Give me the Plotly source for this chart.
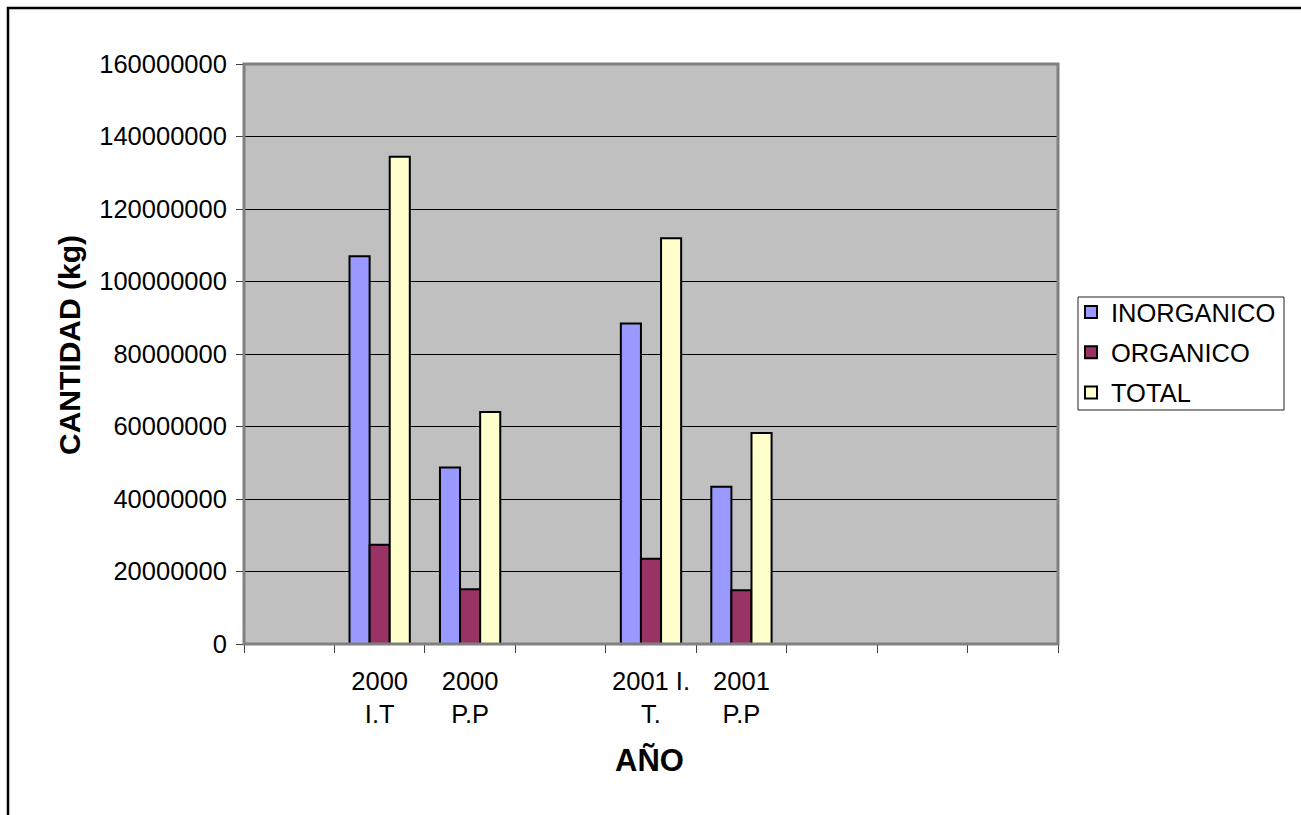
import plotly.graph_objects as go

# Category slots along the x axis (empty slots keep the spacing of the original sheet)
slots = ["", "2000<br>I.T", "2000<br>P.P", "", "2001 I.<br>T.", "2001<br>P.P", "", "", ""]
categories = ["2000 I.T", "2000 P.P", "2001 I. T.", "2001 P.P"]
slot_index = [1, 2, 4, 5]

inorganico = [107.0e6, 48.7e6, 88.4e6, 43.4e6]
organico = [27.4e6, 15.1e6, 23.5e6, 14.8e6]
total = [134.4e6, 64.0e6, 111.9e6, 58.2e6]

y_ticks = list(range(0, 160000001, 20000000))

W, H = 1301, 815
L, R, T, B = 244, 1058, 64, 644  # plot area in pixels
pw, ph = R - L, B - T


def px_x(x):
    return (x - L) / pw


def px_y(y):
    return (B - y) / ph


font = "Liberation Sans, Arial, sans-serif"
label_size = 25.5

fig = go.Figure()
series = [("INORGANICO", inorganico, "#9999FF"),
          ("ORGANICO", organico, "#993366"),
          ("TOTAL", total, "#FFFFCC")]
for name, vals, color in series:
    fig.add_trace(go.Bar(
        x=slot_index, y=vals, name=name, legendgroup=name,
        marker=dict(color=color, line=dict(color="#000000", width=2)),
        hovertext=categories,
    ))

# invisible trace on a second x axis that carries the boundary tick marks
fig.add_trace(go.Scatter(x=[-0.5, 8.5], y=[0, 0], xaxis="x2", mode="lines",
                         line=dict(width=0), showlegend=False, hoverinfo="skip"))

fig.update_layout(
    width=W, height=H,
    margin=dict(l=L, r=W - R, t=T, b=H - B, pad=0),
    paper_bgcolor="#FFFFFF",
    plot_bgcolor="#C0C0C0",
    barmode="group", bargap=1 / 3, bargroupgap=0,
    font=dict(family=font, size=label_size, color="#000000"),
    xaxis=dict(
        range=[-0.5, 8.5], tickmode="array",
        tickvals=list(range(len(slots))), ticktext=slots,
        ticks="", showgrid=False, zeroline=False,
        showline=True, linecolor="#404040", linewidth=1,
        tickfont=dict(size=label_size), ticklabelstandoff=14,
    ),
    xaxis2=dict(
        range=[-0.5, 8.5], overlaying="x", tickmode="array",
        tickvals=[i - 0.5 for i in range(len(slots) + 1)],
        ticktext=[""] * (len(slots) + 1),
        ticks="outside", ticklen=8, tickcolor="#404040", tickwidth=1,
        showgrid=False, zeroline=False, showline=False, side="bottom",
    ),
    yaxis=dict(
        range=[0, 160000000], tickmode="array", tickvals=y_ticks,
        ticktext=[str(v) for v in y_ticks],
        ticks="outside", ticklen=7, tickcolor="#404040", tickwidth=1,
        showgrid=True, gridcolor="#000000", gridwidth=1,
        zeroline=False, showline=True, linecolor="#404040", linewidth=1,
        tickfont=dict(size=label_size), ticklabelstandoff=4,
    ),
    legend=dict(
        x=px_x(1071), y=px_y(289), xanchor="left", yanchor="top",
        bgcolor="rgba(0,0,0,0)", borderwidth=0,
        font=dict(size=label_size), traceorder="grouped", tracegroupgap=4,
        itemwidth=30,
    ),
    showlegend=True,
)

# legend frame
fig.add_shape(type="rect", xref="paper", yref="paper",
              x0=px_x(1078), x1=px_x(1284), y0=px_y(410), y1=px_y(297),
              line=dict(color="#222222", width=1), fillcolor="#FFFFFF", layer="below")
# plot area frame
fig.add_shape(type="rect", xref="paper", yref="paper", x0=0, x1=1, y0=0, y1=1,
              line=dict(color="#808080", width=3), layer="above")
# outer chart border
fig.add_shape(type="rect", xref="paper", yref="paper",
              x0=px_x(8), x1=px_x(1320), y0=px_y(840), y1=px_y(8),
              line=dict(color="#000000", width=2.5), layer="above")

fig.add_annotation(text="<b>CANTIDAD (kg)</b>", xref="paper", yref="paper",
                   x=px_x(69), y=px_y(345), textangle=-90, showarrow=False,
                   xanchor="center", yanchor="middle", font=dict(size=30))
fig.add_annotation(text="<b>AÑO</b>", xref="paper", yref="paper",
                   x=px_x(649), y=px_y(760), showarrow=False,
                   xanchor="center", yanchor="middle", font=dict(size=31))

fig.write_html("out.html")
